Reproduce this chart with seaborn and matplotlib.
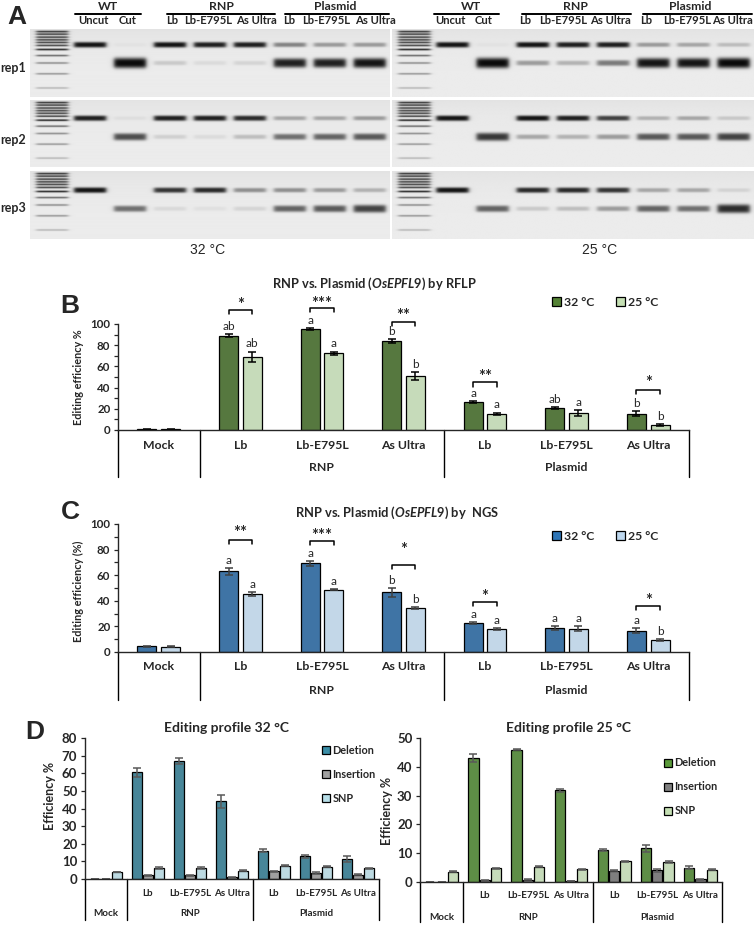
import numpy as np
import pandas as pd
import seaborn as sns
import matplotlib.pyplot as plt
from matplotlib.patches import Patch

sns.set_style("white")
plt.rcParams["font.family"] = ["Lato", "DejaVu Sans"]
plt.rcParams["font.weight"] = "bold"
plt.rcParams["mathtext.fontset"] = "custom"
plt.rcParams["mathtext.it"] = "Lato:italic:bold"
plt.rcParams["mathtext.rm"] = "Lato:bold"
plt.rcParams["axes.linewidth"] = 1.0

W, H = 754, 926

# ---------------- data ----------------
categories = ["Mock", "RNP Lb", "RNP Lb-E795L", "RNP As Ultra",
              "Plasmid Lb", "Plasmid Lb-E795L", "Plasmid As Ultra"]
tick_labels = ["Mock", "Lb", "Lb-E795L", "As Ultra", "Lb", "Lb-E795L", "As Ultra"]
group_labels = ["RNP", "Plasmid"]
temps = ["32 °C", "25 °C"]

# B: RFLP
rflp_32 = [0.5, 89, 95, 84, 26.5, 21, 15.5]
rflp_32_err = [0.2, 1.5, 1, 1.5, 1, 1, 2.5]
rflp_25 = [0.7, 69, 72.5, 51, 15.5, 16, 4.5]
rflp_25_err = [0.3, 5, 1.5, 3.5, 1, 2.5, 0.7]
rflp_letters_32 = ["", "ab", "a", "b", "a", "ab", "b"]
rflp_letters_25 = ["", "ab", "a", "b", "a", "a", "b"]
rflp_stars = ["", "*", "***", "**", "**", "", "*"]
rflp_bracket = [0, 113, 115, 102, 45, 0, 38]
rflp_star_y = [0, 118, 119, 108, 50, 0, 44]

# C: NGS
ngs_32 = [4.5, 63, 69.2, 46.5, 22.7, 19, 16.5]
ngs_32_err = [0.3, 2.5, 2, 3.5, 1, 1.5, 2]
ngs_25 = [4, 45, 48.5, 34.5, 17.8, 18.3, 9.2]
ngs_25_err = [0.3, 1.5, 0.4, 0.7, 0.8, 2, 0.7]
ngs_letters_32 = ["", "a", "a", "b", "a", "a", "a"]
ngs_letters_25 = ["", "a", "a", "b", "a", "a", "b"]
ngs_stars = ["", "**", "***", "*", "*", "", "*"]
ngs_bracket = [0, 87.5, 86.7, 68, 39, 0, 36]
ngs_star_y = [0, 93, 91, 80, 43, 0, 40]

# D: editing profiles
edit_types = ["Deletion", "Insertion", "SNP"]
d32_del = [0.2, 60.5, 67, 44, 16, 12.8, 11.5]
d32_del_err = [0.05, 2.5, 1.8, 3.5, 0.8, 1, 1.8]
d32_ins = [0.1, 2, 2.2, 1, 4.5, 3.5, 2.5]
d32_ins_err = [0.05, 0.5, 0.3, 0.2, 0.3, 0.5, 0.5]
d32_snp = [4, 6.3, 6.3, 4.8, 7.5, 7, 6]
d32_snp_err = [0.2, 0.4, 0.4, 0.3, 0.2, 0.2, 0.4]
d25_del = [0.1, 43, 46, 31.8, 11.2, 11.7, 5]
d25_del_err = [0.05, 1.3, 0.3, 0.5, 0.3, 1.2, 0.4]
d25_ins = [0.1, 0.6, 0.8, 0.3, 3.9, 4, 0.9]
d25_ins_err = [0.05, 0.1, 0.2, 0.1, 0.2, 0.5, 0.2]
d25_snp = [3.6, 4.8, 5.3, 4.4, 7.2, 7, 4.3]
d25_snp_err = [0.2, 0.2, 0.2, 0.2, 0.2, 0.4, 0.2]

# A: gel band intensities (0 = none, 1 = saturated), rows = rep1..rep3
gel_lanes = ["Uncut", "Cut", "Lb", "Lb-E795L", "As Ultra", "Lb", "Lb-E795L", "As Ultra"]
reps = ["rep1", "rep2", "rep3"]
ladder_pos = [0.035, 0.073, 0.117, 0.157, 0.196, 0.24, 0.30, 0.39, 0.50, 0.66, 0.87]
ladder_int = [0.85, 0.8, 0.8, 0.8, 0.8, 0.8, 0.95, 0.6, 0.45, 0.4, 0.25]
uncut_pos = [0.23, 0.27, 0.28]
cut_pos = [0.50, 0.55, 0.555]
upper_32 = [[0.95, 0.03, 0.95, 0.9, 0.9, 0.45, 0.35, 0.35],
            [0.9, 0.05, 0.9, 0.9, 0.85, 0.3, 0.3, 0.35],
            [0.95, 0.0, 0.8, 0.85, 0.4, 0.4, 0.35, 0.25]]
lower_32 = [[0.0, 1.0, 0.15, 0.07, 0.1, 0.9, 0.9, 0.95],
            [0.0, 0.7, 0.12, 0.07, 0.2, 0.55, 0.6, 0.65],
            [0.0, 0.55, 0.08, 0.05, 0.1, 0.6, 0.65, 0.75]]
upper_25 = [[0.95, 0.03, 0.95, 0.9, 0.9, 0.35, 0.3, 0.2],
            [0.95, 0.0, 0.95, 0.9, 0.75, 0.25, 0.3, 0.15],
            [0.95, 0.0, 0.85, 0.85, 0.8, 0.3, 0.3, 0.1]]
lower_25 = [[0.0, 1.0, 0.35, 0.25, 0.5, 0.95, 0.95, 1.0],
            [0.0, 0.8, 0.3, 0.25, 0.35, 0.65, 0.65, 0.75],
            [0.0, 0.6, 0.15, 0.2, 0.35, 0.6, 0.55, 0.85]]

fig = plt.figure(figsize=(W / 100, H / 100), dpi=100)


def px(x, y):
    return x / W, 1 - y / H


def add_ax(l, t, r, b):
    return fig.add_axes([l / W, 1 - b / H, (r - l) / W, (b - t) / H])


# ---------------- panel A: gels ----------------
def gel_image(upper, lower, up, lo):
    xs = np.linspace(-0.5, 8.5, 720)
    ys = np.linspace(0, 1, 140)
    X, Y = np.meshgrid(xs, ys)
    dark = np.zeros_like(X)

    def lane(c):
        return 1 / (1 + np.exp((np.abs(X - c) - 0.4) / 0.03))

    m = lane(0.05)
    for p, v in zip(ladder_pos, ladder_int):
        dark += v * m * np.exp(-((Y - p) / 0.013) ** 2)
    for k in range(len(gel_lanes)):
        m = lane(k + 1)
        dark += upper[k] * m * np.exp(-(np.abs(Y - up) / (0.028 + 0.014 * upper[k])) ** 3)
        dark += lower[k] * m * np.exp(-(np.abs(Y - lo) / (0.032 + 0.045 * lower[k] ** 2)) ** 3)
    shade = 0.035 * np.exp(-Y / 0.25)
    return 0.925 - shade - 0.88 * np.clip(dark, 0, 1)


rows_px = [(29, 97), (100, 167), (171, 239)]
for (gl, gr), up_i, lo_i in [((30, 390), upper_32, lower_32), ((392, 754), upper_25, lower_25)]:
    for r, (t, b) in enumerate(rows_px):
        ax = add_ax(gl, t, gr, b)
        ax.imshow(gel_image(up_i[r], lo_i[r], uncut_pos[r], cut_pos[r]), cmap="gray",
                  vmin=0, vmax=1, extent=(-0.5, 8.5, 1, 0), aspect="auto",
                  interpolation="bilinear")
        ax.axis("off")

for rep, y in zip(reps, [68, 140, 208]):
    fig.text(*px(13, y), rep, ha="center", va="center", fontsize=9)

gel_headers = [
    ([93, 128, 172, 208, 256, 289, 326, 375],
     [("WT", 108, 75, 141), ("RNP", 221, 167, 275), ("Plasmid", 335, 285, 389)]),
    ([450, 484, 525, 563, 610, 646, 687, 732],
     [("WT", 471, 434, 499), ("RNP", 575, 522, 631), ("Plasmid", 690, 643, 752)]),
]
for lane_x, grp in gel_headers:
    for lab, x in zip(gel_lanes, lane_x):
        fig.text(*px(x, 21), lab, ha="center", va="center", fontsize=8.1)
    for lab, x, x0, x1 in grp:
        fig.text(*px(x, 6), lab, ha="center", va="center", fontsize=8.8)
        fig.add_artist(plt.Line2D([x0 / W, x1 / W], [1 - 13.5 / H] * 2, color="black", lw=1.4))

fig.text(*px(208, 250), temps[0], ha="center", va="center", fontsize=10,
         fontweight="normal", family="Liberation Sans")
fig.text(*px(600, 250), temps[1], ha="center", va="center", fontsize=10,
         fontweight="normal", family="Liberation Sans")

for lab, x, y in [("A", 17, 17), ("B", 70, 306), ("C", 70, 512), ("D", 35, 732)]:
    fig.text(*px(x, y), lab, ha="center", va="center", fontsize=19,
             family="Liberation Sans", fontweight="bold")


# ---------------- bar helpers ----------------
def bars(ax, values, errs, hues, palette, width, gap, ecolor):
    rows = []
    for hue, vals in zip(hues, values):
        for c, v in zip(categories, vals):
            rows.append({"cat": c, "hue": hue, "value": v})
    df = pd.DataFrame(rows)
    sns.barplot(df, x="cat", y="value", hue="hue", order=categories, hue_order=hues,
                palette=palette, errorbar=None, width=width, gap=gap,
                edgecolor="black", linewidth=0.9, legend=False, ax=ax)
    conts = list(ax.containers)
    centers = []
    for cont, err in zip(conts, errs):
        ps = sorted(cont.patches, key=lambda p: p.get_x())
        xs = [p.get_x() + p.get_width() / 2 for p in ps]
        hs = [p.get_height() for p in ps]
        ax.errorbar(xs, hs, yerr=err, fmt="none", ecolor=ecolor, elinewidth=1.1,
                    capsize=2.6, capthick=1.1)
        centers.append(xs)
    ax.set_xlabel("")
    ax.set_ylabel("")
    return centers


def category_axis(ax, h_px, tick_off, group_off, line_off, mock_low, fs):
    ax.set_xlim(-0.5, 6.5)
    ax.set_xticks([])
    sns.despine(ax=ax)
    for i, lab in enumerate(tick_labels):
        off = group_off if (mock_low and i == 0) else tick_off
        ax.annotate(lab, (i, 0), xycoords=("data", "axes fraction"),
                    xytext=(0, -off * 0.72), textcoords="offset points",
                    ha="center", va="center", fontsize=fs)
    for x, lab in zip([2, 5], group_labels):
        ax.annotate(lab, (x, 0), xycoords=("data", "axes fraction"),
                    xytext=(0, -group_off * 0.72), textcoords="offset points",
                    ha="center", va="center", fontsize=fs)
    for x in [-0.5, 0.5, 3.5, 6.5]:
        ax.plot([x, x], [0, -line_off / h_px], transform=ax.get_xaxis_transform(),
                color="black", lw=1.0, clip_on=False)


def y_axis(ax, top, step, minor, fs):
    ax.set_ylim(0, top)
    ax.set_yticks(np.arange(0, top + 0.1, step))
    if minor:
        ax.set_yticks(np.arange(0, top + 0.1, minor), minor=True)
    ax.tick_params(axis="y", which="both", direction="out", left=True, length=3,
                   width=0.9, pad=2.5, labelsize=fs)


def letters(ax, centers, vals, errs, labs):
    for x, v, e, t in zip(centers, vals, errs, labs):
        if t:
            ax.annotate(t, (x, v + e), xytext=(0, 1.5), textcoords="offset points",
                        ha="center", va="bottom", fontsize=8.5, fontweight="normal")


def brackets(ax, centers, stars, heights, star_y, tick):
    for j, s in enumerate(stars):
        if not s:
            continue
        x1, x2 = centers[0][j], centers[1][j]
        y = heights[j]
        ax.plot([x1, x1, x2, x2], [y - tick, y, y, y - tick], color="black", lw=1.1,
                clip_on=False)
        ax.text((x1 + x2) / 2, star_y[j], s, ha="center", va="center", fontsize=12)


def legend(ax, names, colors, anchor, ncol, spacing, fs):
    handles = [Patch(facecolor=c, edgecolor="black", linewidth=0.9, label=n)
               for n, c in zip(names, colors)]
    ax.legend(handles=handles, loc="center left", bbox_to_anchor=anchor, ncol=ncol,
              frameon=False, handlelength=0.7, handleheight=0.7, handletextpad=0.25,
              columnspacing=1.8, labelspacing=spacing, borderpad=0, borderaxespad=0,
              prop={"size": fs, "weight": "bold"})


# ---------------- panel B ----------------
axB = add_ax(118, 324, 689, 430)
colB = ["#548235", "#C5E0B4"]
cB = bars(axB, [rflp_32, rflp_25], [rflp_32_err, rflp_25_err], temps, colB, 0.58, 0.2, "black")
y_axis(axB, 100, 20, 10, 8.3)
category_axis(axB, 106, 16, 38, 47, False, 8.8)
letters(axB, cB[0], rflp_32, rflp_32_err, rflp_letters_32)
letters(axB, cB[1], rflp_25, rflp_25_err, rflp_letters_25)
brackets(axB, cB, rflp_stars, rflp_bracket, rflp_star_y, 4)
legend(axB, temps, colB, ((552 - 118) / 571, 1 + 22 / 106), 2, 0.5, 8.8)
fig.text(*px(78, 377), "Editing efficiency %", rotation=90, ha="center", va="center", fontsize=7.8)
fig.text(*px(374, 284), r"RNP vs. Plasmid ($\mathit{OsEPFL9}$) by RFLP", ha="center",
         va="center", fontsize=9.3)

# ---------------- panel C ----------------
axC = add_ax(118, 524, 689, 652)
colC = ["#2E75B6", "#BDD7EE"]
cC = bars(axC, [ngs_32, ngs_25], [ngs_32_err, ngs_25_err], temps, colC, 0.58, 0.2, "#404040")
y_axis(axC, 100, 20, 10, 8.3)
category_axis(axC, 128, 15, 39, 48, False, 8.8)
letters(axC, cC[0], ngs_32, ngs_32_err, ngs_letters_32)
letters(axC, cC[1], ngs_25, ngs_25_err, ngs_letters_25)
brackets(axC, cC, ngs_stars, ngs_bracket, ngs_star_y, 3)
legend(axC, temps, colC, ((552 - 118) / 571, (652 - 536) / 128), 2, 0.5, 8.8)
fig.text(*px(78, 591), "Editing efficiency (%)", rotation=90, ha="center", va="center", fontsize=7.8)
fig.text(*px(397, 513), r"RNP vs. Plasmid ($\mathit{OsEPFL9)}$ by  NGS", ha="center",
         va="center", fontsize=9.3)

# ---------------- panel D ----------------
axD1 = add_ax(85, 738, 379, 879)
colD1 = ["#3A8DA6", "#A0A0A0", "#B7DEE8"]
bars(axD1, [d32_del, d32_ins, d32_snp], [d32_del_err, d32_ins_err, d32_snp_err],
     edit_types, colD1, 0.786, 0.09, "#595959")
y_axis(axD1, 80, 10, None, 9.5)
category_axis(axD1, 141, 14, 34, 41, True, 7.1)
legend(axD1, edit_types, colD1, ((322 - 85) / 294, (879 - 774) / 141), 1, 1.2, 7.8)
fig.text(*px(50, 796), "Efficiency %", rotation=90, ha="center", va="center", fontsize=9)
fig.text(*px(227, 728), "Editing profile 32 °C", ha="center", va="center", fontsize=10)

axD2 = add_ax(420, 738, 722, 882)
colD2 = ["#5A9A3A", "#7F7F7F", "#C5E0B4"]
bars(axD2, [d25_del, d25_ins, d25_snp], [d25_del_err, d25_ins_err, d25_snp_err],
     edit_types, colD2, 0.786, 0.09, "#595959")
y_axis(axD2, 50, 10, None, 9.5)
category_axis(axD2, 144, 14, 35, 40, True, 7.1)
legend(axD2, edit_types, colD2, ((664 - 420) / 302, (882 - 787) / 144), 1, 1.2, 7.8)
fig.text(*px(387, 811), "Efficiency %", rotation=90, ha="center", va="center", fontsize=9)
fig.text(*px(569, 728), "Editing profile 25 °C", ha="center", va="center", fontsize=10)

fig.savefig("out.png", dpi=100)
